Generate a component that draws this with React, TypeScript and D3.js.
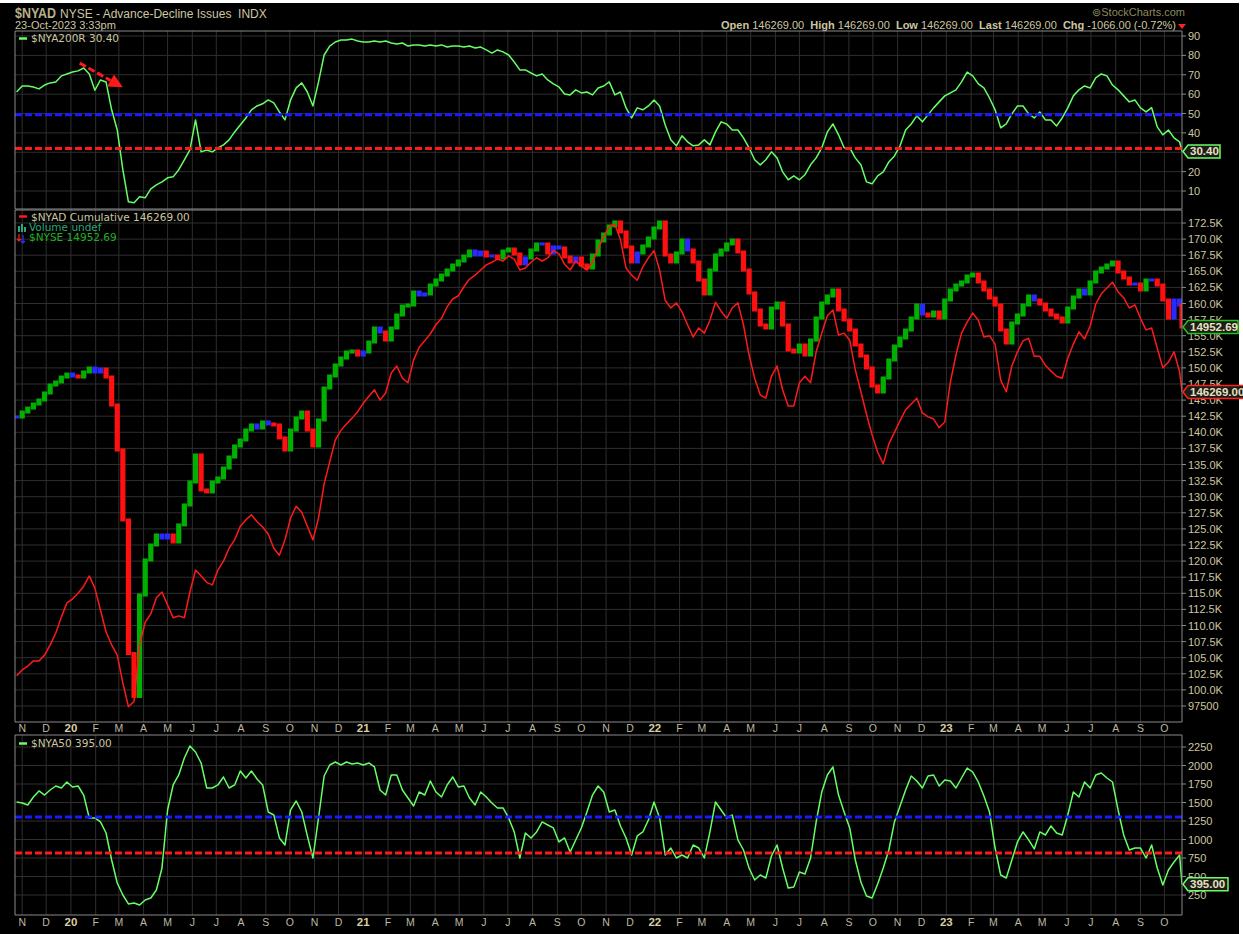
import React from 'react';
import * as d3 from 'd3';

const W = 1243;
const H = 934;

// weekly sample dates (Fridays) plus the last session
const weekDates: Date[] = [
  ...d3.timeFriday.range(new Date(2019, 9, 25), new Date(2023, 9, 21)),
  new Date(2023, 9, 23),
];

// $NYA200R  (% of NYSE stocks above 200-day MA)
const nya200r = [
  61.1, 64.2, 64.2, 63.7, 62.7, 64.7, 65.8, 66.3, 69.4, 70.4,
  71.4, 72.0, 73.5, 70.4, 62.0, 67.3, 66.3, 51.9, 41.5, 21.0,
  4.4, 3.9, 7.0, 6.5, 11.1, 13.2, 14.7, 16.8, 17.3, 21.0,
  26.1, 31.2, 46.7, 30.2, 31.2, 30.2, 32.3, 33.8, 36.4, 40.5,
  44.1, 47.7, 51.9, 53.9, 55.0, 57.0, 55.5, 50.8, 46.7, 57.0,
  63.2, 65.8, 61.1, 53.9, 66.3, 80.2, 84.8, 86.9, 87.9, 87.9,
  88.4, 87.4, 86.9, 86.9, 87.4, 86.9, 87.4, 86.4, 85.9, 86.4,
  84.8, 85.4, 85.4, 84.8, 85.4, 84.8, 85.4, 84.3, 84.8, 84.8,
  84.3, 84.8, 83.8, 84.3, 82.8, 81.2, 82.8, 81.8, 80.2, 76.6,
  72.5, 72.5, 70.9, 69.4, 70.4, 67.3, 65.3, 63.7, 60.1, 59.6,
  62.2, 60.6, 61.1, 59.6, 63.2, 64.2, 66.3, 59.6, 61.1, 52.9,
  47.7, 52.9, 51.9, 53.9, 57.0, 53.9, 44.1, 36.4, 33.3, 38.5,
  35.4, 33.3, 33.8, 36.4, 33.8, 40.5, 45.7, 44.6, 41.5, 41.5,
  37.4, 32.3, 26.1, 23.5, 26.1, 30.2, 27.1, 19.9, 15.8, 17.8,
  15.8, 18.4, 23.5, 27.1, 32.3, 40.5, 44.6, 39.0, 32.3, 32.3,
  27.1, 23.5, 14.7, 13.7, 17.8, 19.9, 25.0, 28.1, 33.3, 41.5,
  44.6, 48.8, 45.7, 49.3, 52.9, 56.0, 59.1, 60.6, 62.2, 66.3,
  71.4, 69.4, 65.3, 63.2, 58.0, 51.9, 42.6, 44.6, 49.8, 53.9,
  53.9, 49.8, 47.7, 50.8, 46.7, 46.7, 43.6, 47.7, 52.9, 59.1,
  62.2, 64.2, 63.2, 68.4, 70.4, 69.4, 64.7, 62.2, 59.1, 56.0,
  57.0, 52.9, 50.8, 53.0, 43.1, 39.0, 41.5, 37.4, 35.4, 30.4,
];

// $NYAD cumulative, in thousands
const nyadK = [
  102.2, 103.1, 103.7, 104.5, 104.5, 105.4, 107.0, 108.8, 111.3, 113.5,
  114.1, 115.0, 116.1, 117.7, 115.8, 112.4, 109.0, 107.0, 105.4, 101.1,
  97.4, 98.2, 107.0, 110.5, 111.8, 114.3, 115.2, 113.2, 111.2, 111.5,
  111.2, 115.2, 118.6, 117.7, 116.7, 116.3, 118.6, 120.0, 122.0, 123.3,
  125.4, 126.4, 127.2, 126.1, 125.3, 124.2, 122.0, 120.9, 123.3, 126.7,
  128.5, 127.6, 125.4, 123.3, 126.7, 132.0, 135.4, 138.8, 140.3, 141.3,
  142.2, 143.2, 144.5, 145.6, 146.6, 145.0, 146.1, 149.2, 150.3, 148.4,
  147.7, 151.2, 153.2, 154.2, 155.3, 156.7, 157.7, 159.5, 160.7, 161.2,
  162.6, 163.8, 164.4, 165.2, 166.0, 166.4, 166.9, 166.6, 167.4, 166.9,
  165.2, 165.5, 166.4, 167.1, 166.6, 167.1, 168.2, 167.7, 166.1, 165.2,
  166.6, 165.8, 165.2, 166.4, 168.5, 170.3, 172.0, 172.3, 169.9, 165.5,
  164.4, 163.6, 165.7, 167.1, 168.2, 165.2, 160.5, 159.3, 160.1, 158.7,
  156.7, 154.8, 156.2, 155.4, 157.4, 160.2, 158.8, 157.7, 159.3, 160.1,
  156.7, 152.0, 148.4, 145.8, 145.3, 148.7, 150.3, 146.6, 144.1, 144.1,
  147.7, 148.7, 147.7, 152.5, 155.4, 158.1, 159.0, 155.1, 155.4, 154.3,
  149.7, 146.3, 142.8, 139.6, 136.9, 135.1, 138.2, 140.0, 141.8, 143.5,
  144.4, 145.3, 143.0, 142.4, 142.1, 140.7, 141.6, 147.8, 152.0, 155.4,
  157.1, 158.5, 157.4, 154.8, 155.0, 153.7, 148.1, 146.3, 150.3, 152.5,
  154.2, 154.6, 151.8, 151.8, 150.4, 149.5, 148.7, 148.4, 151.5, 153.7,
  155.6, 154.5, 156.5, 159.9, 161.5, 162.4, 163.3, 161.8, 160.9, 159.3,
  159.8, 157.7, 155.9, 156.2, 153.1, 150.0, 150.9, 152.5, 149.4, 146.269,
];

// $NYSE composite, weekly closes
const nyse = [
  13195, 13287, 13361, 13436, 13511, 13643, 13795, 13853, 13949, 14007,
  13969, 13949, 14047, 14125, 14047, 14105, 13949, 13417, 12604, 11437,
  9500, 8950, 10305, 10818, 11046, 11201, 11154, 11201, 11092, 11358,
  11677, 12056, 12517, 11923, 11890, 12056, 12123, 12293, 12482, 12675,
  12781, 12959, 13050, 12995, 13105, 13068, 13050, 12817, 12604, 12959,
  13177, 13287, 12959, 12675, 13141, 13738, 13969, 14184, 14322, 14442,
  14462, 14382, 14442, 14644, 14932, 14849, 14685, 14932, 15204, 15395,
  15416, 15698, 15633, 15655, 15851, 15962, 16073, 16185, 16298, 16389,
  16503, 16618, 16526, 16595, 16503, 16503, 16458, 16618, 16664, 16549,
  16321, 16458, 16641, 16781, 16781, 16572, 16711, 16688, 16480, 16366,
  16458, 16298, 16230, 16526, 16851, 17016, 17206, 17302, 17063, 16711,
  16366, 16572, 16734, 16921, 17158, 17302, 16526, 16366, 16572, 16874,
  16641, 16366, 15962, 15655, 16185, 16526, 16641, 16781, 16874, 16595,
  16185, 15677, 15310, 14994, 14932, 15352, 15459, 14994, 14482, 14442,
  14583, 14382, 14685, 15141, 15459, 15611, 15742, 15310, 15099, 14890,
  14583, 14362, 14125, 13776, 13662, 13930, 14283, 14563, 14726, 14890,
  15141, 15416, 15225, 15183, 15268, 15141, 15524, 15742, 15851, 15918,
  16051, 16095, 15918, 15742, 15567, 15416, 14890, 14624, 15036, 15204,
  15416, 15611, 15524, 15438, 15310, 15204, 15141, 15057, 15352, 15589,
  15742, 15655, 15918, 16140, 16230, 16298, 16366, 16140, 16006, 15873,
  15873, 15742, 15962, 15962, 15851, 15524, 15141, 15524, 15416, 14952.69,
];

// $NYA50  (NYSE stocks above 50-day MA)
const nya50 = [
  1507, 1493, 1466, 1575, 1656, 1601, 1669, 1723, 1696, 1777,
  1710, 1723, 1601, 1291, 1291, 1237, 1088, 723, 412, 250,
  129, 142, 115, 183, 210, 318, 615, 1399, 1737, 1872,
  2101, 2264, 2182, 2034, 1696, 1696, 1737, 1845, 1696, 1737,
  1926, 1831, 1926, 1818, 1737, 1372, 1331, 1021, 926, 1399,
  1520, 1372, 1048, 750, 1291, 1858, 2007, 2047, 2007, 2047,
  2020, 2034, 2007, 2034, 1980, 1669, 1601, 1872, 1872, 1669,
  1561, 1453, 1642, 1601, 1790, 1642, 1575, 1737, 1845, 1710,
  1723, 1561, 1466, 1642, 1575, 1493, 1426, 1426, 1291, 1102,
  750, 1088, 1021, 1102, 1237, 1196, 1156, 967, 1021, 831,
  994, 1156, 1372, 1601, 1723, 1642, 1372, 1399, 1183, 1021,
  791, 1048, 1102, 1264, 1507, 1291, 791, 885, 750, 791,
  750, 926, 885, 750, 1102, 1507, 1399, 1291, 1331, 994,
  858, 615, 453, 520, 480, 777, 926, 615, 345, 358,
  561, 534, 750, 1237, 1642, 1872, 1980, 1601, 1372, 1156,
  723, 426, 237, 210, 399, 615, 858, 1237, 1453, 1669,
  1858, 1790, 1696, 1858, 1872, 1723, 1804, 1790, 1696, 1831,
  1966, 1912, 1777, 1588, 1372, 885, 520, 480, 723, 967,
  1102, 994, 872, 1102, 1061, 1183, 1088, 1061, 1331, 1642,
  1575, 1777, 1696, 1872, 1899, 1831, 1777, 1399, 1061, 858,
  885, 885, 750, 926, 615, 385, 588, 696, 791, 395,
];

const topTicks = [10, 20, 30, 40, 50, 60, 70, 80, 90];
const topTickLabels = [10, 20, 40, 50, 60, 70, 80, 90]; // "30" sits under the last-value box
const mainTicks = d3.range(97.5, 172.6, 2.5);
const botTicks = [250, 500, 750, 1000, 1250, 1500, 1750, 2000, 2250];
const topLevels = { blue: 49.3, red: 32.0 };
const botLevels = { blue: 1305, red: 818 };
const arrowAnno = { from: [new Date(2020, 0, 12), 76], to: [new Date(2020, 2, 6), 63.5] };

const FONT = "'Liberation Sans', Arial, sans-serif";
const LFONT = "'DejaVu Sans', Verdana, sans-serif";
const TXT = '#cdc6a0';
const GRID = '#2e2e2e';
const BORDER = '#8a8a8a';
const GREEN = '#66ff66';
const L = 15;
const R = 1182;

const panels = {
  top: { y0: 31, y1: 209 },
  main: { y0: 210, y1: 722 },
  bot: { y0: 735, y1: 915 },
};

const months = d3.timeMonth.range(new Date(2019, 10, 1), new Date(2023, 10, 1));
const MLET = 'JFMAMJJASOND';

function ValueBox({ y, text, color, w }: { y: number; text: string; color: string; w: number }) {
  const x0 = R + 1;
  const p = `M${x0},${y} L${x0 + 5},${y - 6.5} L${x0 + 5 + w},${y - 6.5} L${x0 + 5 + w},${y + 6.5} L${x0 + 5},${y + 6.5} Z`;
  return (
    <g>
      <path d={p} fill="#1c1c14" stroke={color} strokeWidth={1.5} />
      <text x={x0 + 7} y={y + 4} fontFamily={FONT} fontWeight="bold" fontSize={11.5} fill="#e6e0c4">
        {text}
      </text>
    </g>
  );
}

export default function App() {
  const x = d3.scaleTime().domain([new Date(2019, 9, 23), new Date(2023, 9, 23)]).range([L, R]);
  const yTop = d3.scaleLinear().domain([10, 90]).range([191, 36]);
  const yMain = d3.scaleLinear().domain([97.5, 172.5]).range([706, 223]);
  const yNyse = d3.scaleLog().domain([14952.69, 17349]).range([327, 220]);
  const yBot = d3.scaleLinear().domain([250, 2250]).range([895, 747]);

  const lineTop = d3.line<number>().x((_, i) => x(weekDates[i])).y((d) => yTop(d));
  const lineMain = d3.line<number>().x((_, i) => x(weekDates[i])).y((d) => yMain(d));
  const lineBot = d3.line<number>().x((_, i) => x(weekDates[i])).y((d) => yBot(d));

  const barW = 5.2;
  const bars = nyse.map((c, i) => {
    const prev = i > 0 ? nyse[i - 1] : c;
    const prev2 = i > 1 ? nyse[i - 2] : prev;
    let color = '#2a2aff';
    if (c > prev && c > prev2) color = '#00b000';
    else if (c < prev && c < prev2) color = '#ff1010';
    const ya = yNyse(prev);
    const yb = yNyse(c);
    const top = Math.min(ya, yb) - 1.5;
    const h = Math.abs(ya - yb) + 3;
    return { x: x(weekDates[i]) - barW / 2, y: top, h, color };
  });

  const vGrid = (p: { y0: number; y1: number }) =>
    months.map((m, i) => <line key={i} x1={x(m)} x2={x(m)} y1={p.y0} y2={p.y1} stroke={GRID} strokeWidth={1} />);

  const hGrid = (ticks: number[], s: (v: number) => number) =>
    ticks.map((t, i) => <line key={i} x1={L} x2={R} y1={s(t)} y2={s(t)} stroke={GRID} strokeWidth={1} />);

  const axisLabels = (ticks: number[], s: (v: number) => number, fmt: (v: number) => string) =>
    ticks.map((t, i) => (
      <g key={i}>
        <line x1={R} x2={R + 4} y1={s(t)} y2={s(t)} stroke={BORDER} />
        <text x={R + 6} y={s(t) + 4} fontFamily={FONT} fontSize={11} fill={TXT}>
          {fmt(t)}
        </text>
      </g>
    ));

  const monthLabels = (y: number) =>
    months.map((m, i) => {
      const jan = m.getMonth() === 0;
      return (
        <text
          key={i}
          x={x(m)}
          y={y}
          textAnchor="middle"
          fontFamily={FONT}
          fontSize={jan ? 11.5 : 10.5}
          fontWeight={jan ? 'bold' : 'normal'}
          fill={jan ? '#d8d0a0' : '#bdb8a0'}
        >
          {jan ? String(m.getFullYear()).slice(2) : MLET[m.getMonth()]}
        </text>
      );
    });

  const panelFrame = (p: { y0: number; y1: number }) => (
    <g>
      <line x1={L} x2={R} y1={p.y0} y2={p.y0} stroke={BORDER} />
      <line x1={L} x2={R} y1={p.y1} y2={p.y1} stroke={BORDER} />
      <line x1={L} x2={L} y1={p.y0} y2={p.y1} stroke={BORDER} />
      <line x1={R} x2={R} y1={p.y0} y2={p.y1} stroke={BORDER} />
    </g>
  );

  const mainFmt = (v: number) => (v >= 100 ? `${v.toFixed(1)}K` : `${Math.round(v * 1000)}`);

  const ax0 = x(arrowAnno.from[0] as Date);
  const ay0 = yTop(arrowAnno.from[1] as number);
  const ax1 = x(arrowAnno.to[0] as Date);
  const ay1 = yTop(arrowAnno.to[1] as number);
  const ang = Math.atan2(ay1 - ay0, ax1 - ax0);
  const headLen = 14;
  const bx = ax1 - headLen * Math.cos(ang);
  const by = ay1 - headLen * Math.sin(ang);
  const nx = -Math.sin(ang) * 7;
  const ny = Math.cos(ang) * 7;

  return (
    <svg
      width={W}
      height={H}
      style={{ position: 'absolute', left: 0, top: 0, background: '#ffffff' }}
    >
      <defs>
        <clipPath id="cTop">
          <rect x={L} y={panels.top.y0} width={R - L} height={panels.top.y1 - panels.top.y0} />
        </clipPath>
        <clipPath id="cMain">
          <rect x={L} y={panels.main.y0} width={R - L} height={panels.main.y1 - panels.main.y0} />
        </clipPath>
        <clipPath id="cBot">
          <rect x={L} y={panels.bot.y0} width={R - L} height={panels.bot.y1 - panels.bot.y0} />
        </clipPath>
      </defs>
      <rect x={0} y={3} width={1239} height={H - 3} fill="#000000" />

      {/* header */}
      <text x={15} y={18} fontFamily={FONT} fontSize={14} fontWeight="bold" fill="#b8b088" textLength={41} lengthAdjust="spacingAndGlyphs">
        $NYAD
      </text>
      <text x={60} y={18} fontFamily={FONT} fontSize={12} fill={TXT} style={{ whiteSpace: 'pre' }}>
        {'NYSE - Advance-Decline Issues  INDX'}
      </text>
      <text x={15} y={29} fontFamily={FONT} fontSize={11} fill={TXT}>
        23-Oct-2023 3:33pm
      </text>
      <text x={1185} y={16} textAnchor="end" fontFamily={FONT} fontSize={11} fill="#8c8a5c">
        ⊚StockCharts.com
      </text>
      <text x={1176} y={29} textAnchor="end" fontFamily={FONT} fontSize={11} fill={TXT} style={{ whiteSpace: 'pre' }}>
        <tspan fontWeight="bold">Open</tspan>
        <tspan>{' 146269.00  '}</tspan>
        <tspan fontWeight="bold">High</tspan>
        <tspan>{' 146269.00  '}</tspan>
        <tspan fontWeight="bold">Low</tspan>
        <tspan>{' 146269.00  '}</tspan>
        <tspan fontWeight="bold">Last</tspan>
        <tspan>{' 146269.00  '}</tspan>
        <tspan fontWeight="bold">Chg</tspan>
        <tspan>{' -1066.00 (-0.72%)'}</tspan>
      </text>
      <polygon points="1178,24 1186,24 1182,29" fill="#ff2020" />

      {/* grids */}
      <g>{vGrid(panels.top)}</g>
      <g>{vGrid(panels.main)}</g>
      <g>{vGrid(panels.bot)}</g>
      <g>{hGrid(topTicks, yTop)}</g>
      <g>{hGrid(mainTicks, yMain)}</g>
      <g>{hGrid(botTicks, yBot)}</g>

      {/* top panel */}
      <g clipPath="url(#cTop)">
        <path d={lineTop(nya200r) || ''} fill="none" stroke={GREEN} strokeWidth={1.5} strokeLinejoin="round" />
        <line x1={L} x2={R} y1={yTop(topLevels.blue)} y2={yTop(topLevels.blue)} stroke="#1a1aff" strokeWidth={3} strokeDasharray="7,3" />
        <line x1={L} x2={R} y1={yTop(topLevels.red)} y2={yTop(topLevels.red)} stroke="#ff1a1a" strokeWidth={3} strokeDasharray="7,3" />
        <line x1={ax0} y1={ay0} x2={bx} y2={by} stroke="#ff1a1a" strokeWidth={3} strokeDasharray="7,3" />
        <polygon points={`${ax1},${ay1} ${bx + nx},${by + ny} ${bx - nx},${by - ny}`} fill="#ff1a1a" />
      </g>

      {/* main panel */}
      <g clipPath="url(#cMain)">
        {bars.map((b, i) => (
          <rect key={i} x={b.x} y={b.y} width={barW} height={b.h} fill={b.color} />
        ))}
        <path d={lineMain(nyadK) || ''} fill="none" stroke="#ff1a1a" strokeWidth={1.5} strokeLinejoin="round" />
      </g>

      {/* bottom panel */}
      <g clipPath="url(#cBot)">
        <path d={lineBot(nya50) || ''} fill="none" stroke={GREEN} strokeWidth={1.5} strokeLinejoin="round" />
        <line x1={L} x2={R} y1={yBot(botLevels.blue)} y2={yBot(botLevels.blue)} stroke="#1a1aff" strokeWidth={3} strokeDasharray="7,3" />
        <line x1={L} x2={R} y1={yBot(botLevels.red)} y2={yBot(botLevels.red)} stroke="#ff1a1a" strokeWidth={3} strokeDasharray="7,3" />
      </g>

      {panelFrame(panels.top)}
      {panelFrame(panels.main)}
      {panelFrame(panels.bot)}

      {/* axes */}
      <g>{axisLabels(topTickLabels, yTop, (v) => String(v))}</g>
      <g>{axisLabels(mainTicks, yMain, mainFmt)}</g>
      <g>{axisLabels(botTicks, yBot, (v) => String(v))}</g>
      <g>{monthLabels(732)}</g>
      <g>{monthLabels(926)}</g>

      {/* legends */}
      <line x1={19} x2={27} y1={38.5} y2={38.5} stroke={GREEN} strokeWidth={2.5} />
      <text x={31} y={42} fontFamily={LFONT} fontSize={10.5} fill={TXT}>
        $NYA200R 30.40
      </text>
      <line x1={19} x2={27} y1={216.5} y2={216.5} stroke="#ff1a1a" strokeWidth={2.5} />
      <text x={31} y={220.5} fontFamily={LFONT} fontSize={10.5} fill={TXT}>
        $NYAD Cumulative 146269.00
      </text>
      <rect x={18} y={226} width={2} height={6} fill="#2aa878" />
      <rect x={21} y={224} width={2} height={8} fill="#2aa878" />
      <rect x={24} y={227} width={2} height={5} fill="#2aa878" />
      <text x={29} y={231} fontFamily={LFONT} fontSize={10.5} fill="#2aa878">
        Volume undef
      </text>
      <path d="M19,234 L19,241 M17,239 L19,241 L21,239" stroke="#ff2020" strokeWidth={1.2} fill="none" />
      <path d="M23,235 L23,243 M21,241 L23,243 L25,241" stroke="#3030ff" strokeWidth={1.2} fill="none" />
      <text x={29} y={241} fontFamily={LFONT} fontSize={10.5} fill="#22b022">
        $NYSE 14952.69
      </text>
      <line x1={19} x2={27} y1={743.5} y2={743.5} stroke={GREEN} strokeWidth={2.5} />
      <text x={31} y={747} fontFamily={LFONT} fontSize={10.5} fill={TXT}>
        $NYA50 395.00
      </text>

      {/* last-value boxes */}
      <ValueBox y={yTop(30.4)} text="30.40" color={GREEN} w={32} />
      <ValueBox y={yNyse(14952.69)} text="14952.69" color="#22c022" w={50} />
      <ValueBox y={yMain(146.269)} text="146269.00" color="#ff2020" w={56} />
      <ValueBox y={yBot(395)} text="395.00" color={GREEN} w={40} />
    </svg>
  );
}
